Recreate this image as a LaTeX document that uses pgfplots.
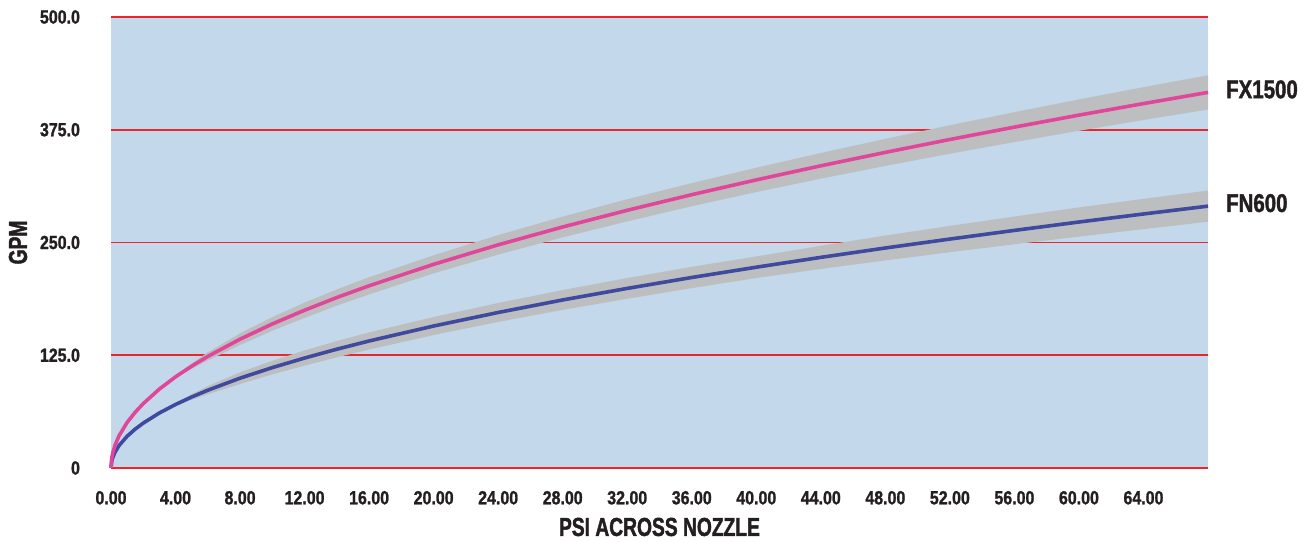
\documentclass[border=0pt]{standalone}
\usepackage{pgfplots}
\usepackage{pgfplotstable}
\pgfplotsset{compat=1.18}
\usepgfplotslibrary{fillbetween}
\usepackage{fontspec}
\setmainfont{Liberation Sans}
\newfontfamily\tickfam{Liberation Sans}[FakeStretch=0.84, FakeBold=1.2]
\newfontfamily\titlefam{Liberation Sans}[FakeStretch=0.74, FakeBold=1.5]
\newfontfamily\serfam{Liberation Sans}[FakeStretch=0.8, FakeBold=1.5]
\definecolor{bgblue}{RGB}{195,216,235}
\definecolor{band}{RGB}{189,190,192}
\definecolor{pinkc}{RGB}{224,71,154}
\definecolor{bluec}{RGB}{63,74,158}
\definecolor{gridred}{RGB}{232,38,43}
\definecolor{txt}{RGB}{35,31,32}

\pgfplotstableread{
x    p     hp    b     hb
0    0     0     0     0
0.05 11.3  0     7.9   0
0.1  16.0  0     11.1  0
0.25 25.3  0     17.6  0
0.5  35.7  0     24.9  0
1    50.5  0     35.2  0
1.5  61.8  0     43.1  0
2    71.4  0     49.8  0
3    87.5  0.5   61.0  0.5
4    101.0 1.5   70.4  1.5
5    112.9 3.0   78.7  3.0
6    123.7 4.5   86.2  4.5
8    142.8 6.5   99.6  6.5
10   159.7 7.5   111.3 7.5
12   174.9 8.5   121.9 8.5
14   189.0 9.0   131.7 9.0
16   202.0 9.5   140.8 9.5
20   225.8 10.0  157.4 10.0
24   247.4 10.8  172.4 10.5
28   267.2 11.5  186.3 11.0
32   285.7 12.3  199.1 11.5
36   303.0 12.8  211.2 11.8
40   319.4 13.5  222.6 12.0
44   335.0 14.2  233.5 12.8
48   349.9 15.0  243.9 13.8
52   364.2 15.8  253.8 14.6
56   377.9 16.6  263.4 15.4
60   391.2 17.4  272.7 16.2
64   404.0 18.2  281.6 16.8
68   416.4 19.0  290.3 17.3
}\flowdata

\begin{document}
\begin{tikzpicture}
\begin{axis}[
  scale only axis,
  width=548.5pt, height=225.5pt,
  xmin=0, xmax=68, ymin=0, ymax=500,
  clip=false,
  axis background/.style={fill=bgblue},
  axis line style={draw=none},
  major tick length=0pt,
  xtick={0,4,8,12,16,20,24,28,32,36,40,44,48,52,56,60,64},
  xticklabels={0.00,4.00,8.00,12.00,16.00,20.00,24.00,28.00,32.00,36.00,40.00,44.00,48.00,52.00,56.00,60.00,64.00},
  ytick={0,125,250,375,500},
  yticklabels={0,125.0,250.0,375.0,500.0},
  ymajorgrids,
  grid style={draw=gridred, line width=0.8pt},
  ticklabel style={font=\tickfam\bfseries\fontsize{9.5}{11}\selectfont, text=txt},
  xticklabel style={yshift=-8pt},
  yticklabel style={xshift=-12pt},
  xlabel={PSI ACROSS NOZZLE},
  ylabel={GPM},
  label style={font=\titlefam\bfseries\fontsize{13}{14}\selectfont, text=txt},
  xlabel style={at={(axis description cs:0.5,0)}, anchor=center, yshift=-29.5pt},
  ylabel style={at={(axis description cs:-0.0848,0.5)}, anchor=center},
]
\addplot[name path=pu, draw=none, forget plot] table[x=x, y expr=\thisrow{p}+\thisrow{hp}] {\flowdata};
\addplot[name path=pl, draw=none, forget plot] table[x=x, y expr=\thisrow{p}-\thisrow{hp}] {\flowdata};
\addplot[name path=bu, draw=none, forget plot] table[x=x, y expr=\thisrow{b}+\thisrow{hb}] {\flowdata};
\addplot[name path=bl, draw=none, forget plot] table[x=x, y expr=\thisrow{b}-\thisrow{hb}] {\flowdata};
\addplot[band, draw=none] fill between[of=pu and pl];
\addplot[band, draw=none] fill between[of=bu and bl];
\addplot[bluec, line width=1.8pt, line join=round] table[x=x, y=b] {\flowdata};
\addplot[pinkc, line width=1.8pt, line join=round] table[x=x, y=p] {\flowdata};
\node[anchor=west, xshift=5.5pt, yshift=1.5pt, font=\serfam\bfseries\fontsize{12.8}{14}\selectfont, text=txt] at (axis cs:68,416.4) {FX1500};
\node[anchor=west, xshift=5.5pt, yshift=1.5pt, font=\serfam\bfseries\fontsize{12.8}{14}\selectfont, text=txt] at (axis cs:68,290.3) {FN600};
\end{axis}
\pgfresetboundingbox
\path ([xshift=-55.5pt,yshift=-37pt]current axis.south west) rectangle ([xshift=51pt,yshift=8.5pt]current axis.north east);
\end{tikzpicture}
\end{document}
